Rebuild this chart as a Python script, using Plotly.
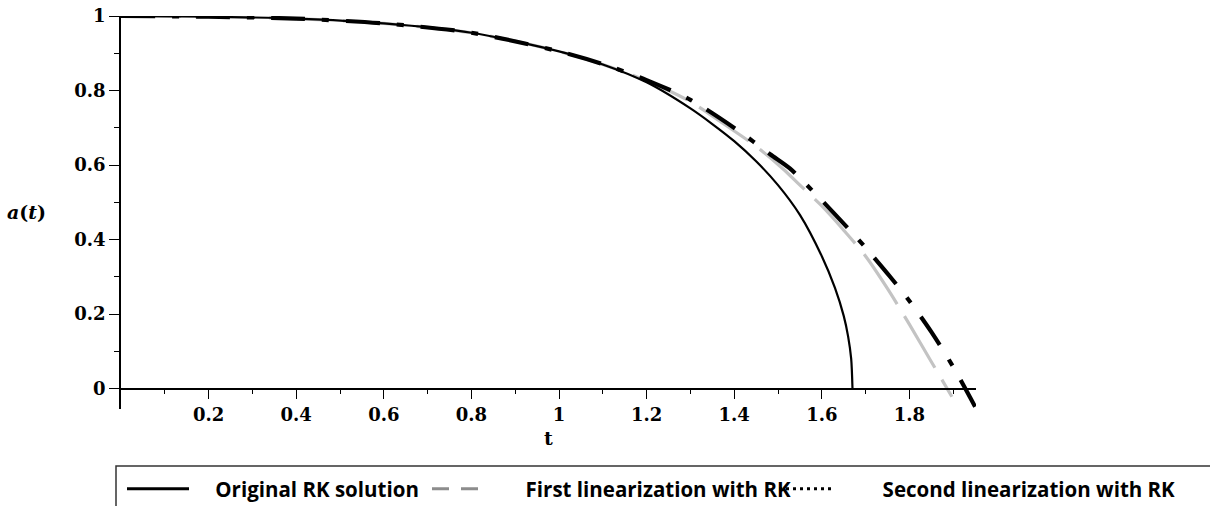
import plotly.graph_objects as go

# ---- data ----
t_orig = [0.0, 0.2, 0.4, 0.6, 0.8, 1.0, 1.1, 1.2, 1.3, 1.35, 1.4, 1.45, 1.5, 1.55, 1.6, 1.63, 1.65, 1.66, 1.667, 1.67]
a_orig = [1.0, 0.998, 0.993, 0.980, 0.955, 0.905, 0.870, 0.822, 0.752, 0.710, 0.664, 0.610, 0.546, 0.466, 0.355, 0.270, 0.195, 0.140, 0.080, 0.0]

t_first = [0.0, 0.2, 0.4, 0.6, 0.8, 1.0, 1.1, 1.2, 1.3, 1.374, 1.45, 1.511, 1.55, 1.6, 1.65, 1.7, 1.75, 1.8, 1.85, 1.897]
a_first = [1.0, 0.998, 0.993, 0.980, 0.955, 0.905, 0.870, 0.826, 0.770, 0.712, 0.650, 0.590, 0.546, 0.490, 0.425, 0.355, 0.268, 0.172, 0.072, -0.022]

t_second = [0.0, 0.2, 0.4, 0.6, 0.8, 1.0, 1.1, 1.2, 1.3, 1.413, 1.482, 1.527, 1.566, 1.6, 1.664, 1.7, 1.756, 1.8, 1.85, 1.9, 1.95]
a_second = [1.0, 0.998, 0.993, 0.980, 0.955, 0.905, 0.871, 0.828, 0.775, 0.689, 0.629, 0.591, 0.546, 0.505, 0.425, 0.378, 0.300, 0.235, 0.152, 0.058, -0.049]

names = ["Original RK solution", "First linearization with RK", "Second linearization with RK"]
x_ticks = [0.2, 0.4, 0.6, 0.8, 1.0, 1.2, 1.4, 1.6, 1.8]
x_tick_text = ["0.2", "0.4", "0.6", "0.8", "1", "1.2", "1.4", "1.6", "1.8"]
y_ticks = [0, 0.2, 0.4, 0.6, 0.8, 1.0]
y_tick_text = ["0", "0.2", "0.4", "0.6", "0.8", "1"]

W, H = 1210, 506
SX0, SX1, SY0, SY1 = 121, 976, 16, 409  # plot area in screen pixels
ML, MR, MT, MB = SX0, W - SX1, SY0, H - SY1
PW, PH = W - ML - MR, H - MT - MB


def px_x(px):
    return (px - ML) / PW


def px_y(py):
    return (H - MB - py) / PH


def cx(px):
    return px / W


def cy(py):
    return 1 - py / H


NB = "&nbsp;"

fig = go.Figure()

fig.add_trace(go.Scatter(x=t_first, y=a_first, mode="lines", showlegend=False, hoverinfo="skip",
                         line=dict(color="#c3c3c3", width=3.2, dash="60px,14px", shape="spline", smoothing=0.8)))
fig.add_trace(go.Scatter(x=t_second, y=a_second, mode="lines", showlegend=False, hoverinfo="skip",
                         line=dict(color="black", width=4.2, dash="34px,17px,7px,17px", shape="spline", smoothing=0.8)))
fig.add_trace(go.Scatter(x=t_orig, y=a_orig, mode="lines", showlegend=False, hoverinfo="skip",
                         line=dict(color="black", width=2.2, shape="spline", smoothing=0.8)))

# legend entries
fig.add_trace(go.Scatter(x=[None], y=[None], mode="lines", name=NB * 4 + names[0], legend="legend",
                         line=dict(color="black", width=3)))
fig.add_trace(go.Scatter(x=[None], y=[None], mode="lines", name=NB * 8 + names[1], legend="legend2",
                         line=dict(color="#8c8c8c", width=3, dash="17px,12px")))
fig.add_trace(go.Scatter(x=[None], y=[None], mode="lines", name=NB * 8 + names[2], legend="legend3",
                         line=dict(color="black", width=3, dash="3px,4px")))

legfont = dict(family="Open Sans", size=20.5, color="black", weight="bold")
leg_common = dict(orientation="h", yanchor="middle", xanchor="left", font=legfont,
                  xref="container", yref="container",
                  bgcolor="rgba(0,0,0,0)", borderwidth=0, y=cy(489))

fig.update_layout(
    width=W, height=H,
    margin=dict(l=ML, r=MR, t=MT, b=MB, autoexpand=False),
    paper_bgcolor="white", plot_bgcolor="white",
    showlegend=True,
    hovermode=False,
    legend=dict(**leg_common, x=cx(122), itemwidth=62),
    legend2=dict(**leg_common, x=cx(427), itemwidth=46),
    legend3=dict(**leg_common, x=cx(774), itemwidth=56),
    xaxis=dict(range=[0, 1.952], anchor="free", position=px_y(388.5), automargin=False,
               showline=True, linecolor="black", linewidth=1.5,
               ticks="outside", ticklen=10, tickwidth=1.3, tickcolor="black",
               tickvals=x_ticks, ticktext=x_tick_text, ticklabeloverflow="allow",
               tickfont=dict(family="DejaVu Serif", size=18, color="black", weight="bold"),
               minor=dict(tickvals=[0.1, 0.3, 0.5, 0.7, 0.9, 1.1, 1.3, 1.5, 1.7, 1.9], ticks="outside", ticklen=5,
                          tickwidth=1.2, tickcolor="black"),
               showgrid=False, zeroline=False),
    yaxis=dict(range=[-0.055, 1.0], automargin=False, showline=True, linecolor="black", linewidth=1.5,
               ticks="outside", ticklen=10, tickwidth=1.3, tickcolor="black",
               tickvals=y_ticks, ticktext=y_tick_text, ticklabeloverflow="allow",
               tickfont=dict(family="DejaVu Serif", size=18, color="black", weight="bold"),
               minor=dict(tickvals=[0.1, 0.3, 0.5, 0.7, 0.9], ticks="outside", ticklen=5,
                          tickwidth=1.2, tickcolor="black"),
               showgrid=False, zeroline=False),
    shapes=[dict(type="rect", xref="paper", yref="paper",
                 x0=px_x(116), x1=px_x(1225), y0=px_y(466), y1=px_y(530),
                 line=dict(color="#333333", width=1.5), fillcolor="rgba(0,0,0,0)", layer="below")],
    annotations=[
        dict(text="<b>t</b>", xref="paper", yref="paper", x=px_x(548), y=px_y(438),
             showarrow=False, xanchor="center", yanchor="middle",
             font=dict(family="DejaVu Serif", size=19, color="black")),
        dict(text="<b><i>a</i>(<i>t</i>)</b>", xref="paper", yref="paper", x=px_x(26), y=px_y(212),
             showarrow=False, xanchor="center", yanchor="middle",
             font=dict(family="DejaVu Serif", size=19, color="black")),
    ],
)

fig.write_html("out.html", config={"displayModeBar": False},
               post_script="document.body.style.margin='0px';document.body.style.overflow='hidden';")
